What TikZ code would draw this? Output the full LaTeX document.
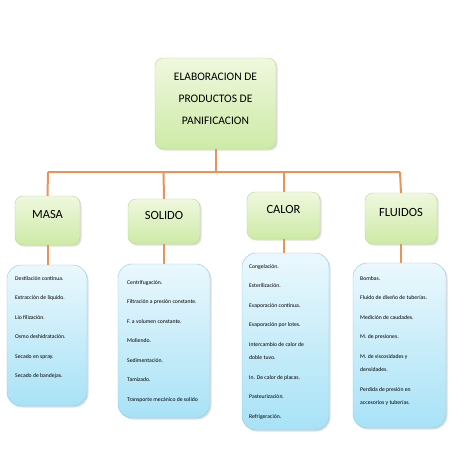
\documentclass[tikz,border=0pt]{standalone}
\usepackage{fontspec}
\setmainfont{Carlito}
\usetikzlibrary{shadows}
\definecolor{greentop}{HTML}{EFF8DE}
\definecolor{greenbot}{HTML}{CDEAA6}
\definecolor{greenline}{HTML}{B7D98C}
\definecolor{bluetop}{HTML}{EAF8FD}
\definecolor{bluebot}{HTML}{A8E2F6}
\definecolor{blueline}{HTML}{88C8E0}
\definecolor{linkc}{HTML}{E8935A}

\begin{document}
\begin{tikzpicture}[x=1pt, y=-1pt,
  topic/.style={draw=greenline, rounded corners=8pt, top color=greentop,
    bottom color=greenbot, align=center, inner sep=0pt,
    drop shadow={shadow xshift=1.5pt, shadow yshift=-1.5pt, opacity=0.25}},
  listbox/.style={draw=blueline, rounded corners=14pt, top color=bluetop,
    bottom color=bluebot,
    drop shadow={shadow xshift=1.5pt, shadow yshift=-1.5pt, opacity=0.25}},
  listtext/.style={anchor=north west, inner sep=0pt, align=left,
    font=\fontsize{5.7}{13.5}\selectfont},
  link/.style={draw=linkc, line width=2pt}]

  % Page
  \useasboundingbox[fill=white] (0,0) rectangle (453,453);

  % Connectors (behind the boxes)
  \coordinate (bar) at (215.5,172);
  \coordinate (top) at (215.5,150);
  \draw[link] (top) -- (bar);
  \foreach \n/\x in {masa/48, solido/163.5, calor/283.5, fluidos/400} {
    \coordinate (up-\n) at (\x,172);
  }
  \draw[link] (up-masa) -- (up-fluidos);

  % Main topic
  \node[topic, minimum width=121pt, minimum height=91pt,
    font=\fontsize{11.5}{22}\selectfont] (title) at (215.5,103.5)
    {ELABORACION DE\\PRODUCTOS DE\\PANIFICACION\\[-12pt]\mbox{}};

  % Branch topics
  \foreach \n/\x/\y/\w/\h/\t in {
    masa/47.5/220.5/65/49/MASA, solido/164/221.5/72/45/SOLIDO,
    calor/283.5/215.5/73/47/CALOR, fluidos/401/218.5/72/51/FLUIDOS} {
    \node[topic, minimum width=\w pt, minimum height=\h pt,
      font=\fontsize{12.5}{15}\selectfont] (\n) at (\x,\y)
      {\raisebox{6pt}[\height][\depth]{\t}};
  }

  % List boxes
  \foreach \n/\x/\y/\w/\h in {
    lmasa/47/335.5/80/141, lsolido/164/341/92/154,
    lcalor/285.5/341.5/87/177, lfluidos/399.5/345.5/93/165} {
    \node[listbox, minimum width=\w pt, minimum height=\h pt] (\n) at (\x,\y) {};
  }

  % Branch links
  \foreach \n in {masa, solido, calor, fluidos} {
    \draw[link] (up-\n) -- (\n.north);
    \draw[link] (\n.south) -- (\n.south |- l\n.north);
  }
  \draw[link] (title.south) -- (top);

  % List texts
  \node[listtext] (tmasa) at (15,276) {Destilación contínua.\\[6pt]
    Extracción de liquido.\\[6pt] Lio filización.\\[6pt]
    Osmo deshidratación.\\[6pt] Secado en spray.\\[6pt] Secado de bandejas.};
  \node[listtext] (tsolido) at (127,280) {Centrifugación.\\[6pt]
    Filtración a presión constante.\\[6pt] F. a volumen constante.\\[6pt]
    Moliendo.\\[6pt] Sedimentación.\\[6pt] Tamizado.\\[6pt]
    Transporte mecánico de solido};
  \node[listtext] (tcalor) at (249,264) {Congelación.\\[6pt]
    Esterilización.\\[6pt] Evaporación contínua.\\[6pt]
    Evaporación por lotes.\\[6pt] Intercambio de calor de\\doble tuvo.\\[6pt]
    In. De calor de placas.\\[6pt] Pasteurización.\\[6pt] Refrigeración.};
  \node[listtext] (tfluidos) at (360,276) {Bombas.\\[6pt]
    Fluido de diseño de tuberías.\\[6pt] Medición de caudades.\\[6pt]
    M. de presiones.\\[6pt] M. de viscosidades y\\densidades.\\[6pt]
    Perdida de presión en\\accesorios y tuberías.};
\end{tikzpicture}
\end{document}
